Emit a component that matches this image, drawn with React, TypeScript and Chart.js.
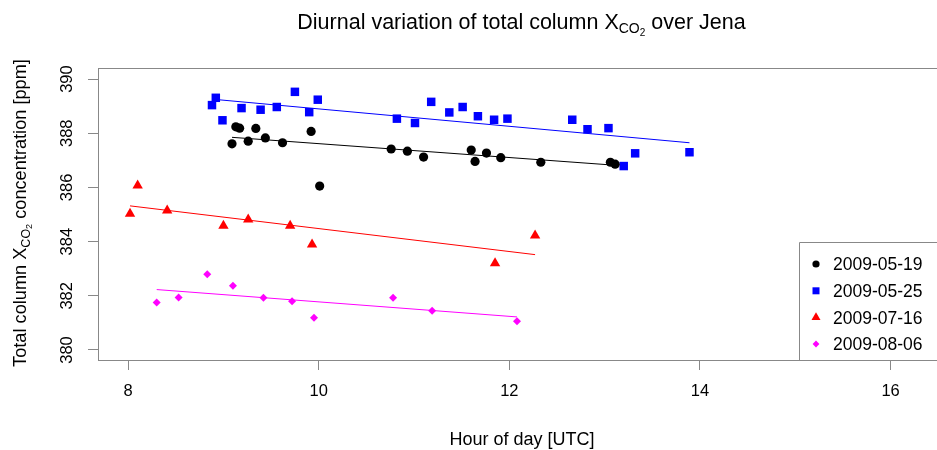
import React, { useEffect, useRef } from "react";
import { Chart, registerables } from "chart.js";

Chart.register(...registerables);

// ---------- data ----------
const seriesNames = ["2009-05-19", "2009-05-25", "2009-07-16", "2009-08-06"];
const seriesColors = ["#000000", "#0000ff", "#ff0000", "#ff00ff"];
const seriesShapes = ["circle", "rect", "triangle", "rectRot"];

const may19Hours = [9.09, 9.13, 9.17, 9.26, 9.34, 9.44, 9.62, 9.92, 10.01, 10.76, 10.93, 11.1, 11.6, 11.64, 11.76, 11.91, 12.33, 13.06, 13.11];
const may19Xco2 = [387.61, 388.24, 388.19, 387.71, 388.18, 387.83, 387.65, 388.07, 386.05, 387.42, 387.34, 387.12, 387.38, 386.96, 387.27, 387.1, 386.93, 386.93, 386.86];

const may25Hours = [8.88, 8.92, 8.99, 9.19, 9.39, 9.56, 9.75, 9.9, 9.99, 10.82, 11.01, 11.18, 11.37, 11.51, 11.67, 11.84, 11.98, 12.66, 12.82, 13.04, 13.2, 13.32, 13.89];
const may25Xco2 = [389.04, 389.31, 388.48, 388.93, 388.87, 388.97, 389.53, 388.78, 389.24, 388.54, 388.38, 389.16, 388.77, 388.97, 388.63, 388.5, 388.54, 388.5, 388.15, 388.19, 386.79, 387.26, 387.3];

const jul16Hours = [8.02, 8.1, 8.41, 9.0, 9.26, 9.7, 9.93, 11.85, 12.27];
const jul16Xco2 = [385.03, 386.07, 385.15, 384.59, 384.82, 384.59, 383.89, 383.2, 384.23];

const aug06Hours = [8.3, 8.53, 8.83, 9.1, 9.42, 9.72, 9.95, 10.78, 11.19, 12.08];
const aug06Xco2 = [381.75, 381.94, 382.8, 382.37, 381.93, 381.8, 381.19, 381.93, 381.45, 381.06];

// fitted trend lines: [start, end]
const may19FitHours = [9.09, 13.11];
const may19FitXco2 = [387.85, 386.82];
const may25FitHours = [8.88, 13.89];
const may25FitXco2 = [389.26, 387.65];
const jul16FitHours = [8.02, 12.27];
const jul16FitXco2 = [385.32, 383.52];
const aug06FitHours = [8.3, 12.08];
const aug06FitXco2 = [382.23, 381.22];

const xTickValues = [8, 10, 12, 14, 16];
const yTickValues = [380, 382, 384, 386, 388, 390];
const xRange = [7.684, 16.424];
const yRange = [379.63, 390.41];

// ---------- styling ----------
const FONT = '"Liberation Sans", Arial, Helvetica, sans-serif';
const AXIS_GREY = "#888888";

type Part = { t: string; size: number; dy: number };

function partsWidth(ctx: CanvasRenderingContext2D, parts: Part[]) {
  let w = 0;
  for (const p of parts) {
    ctx.font = `${p.size}px ${FONT}`;
    w += ctx.measureText(p.t).width;
  }
  return w;
}

function drawParts(ctx: CanvasRenderingContext2D, parts: Part[], x: number, y: number) {
  let cx = x;
  for (const p of parts) {
    ctx.font = `${p.size}px ${FONT}`;
    ctx.fillText(p.t, cx, y + p.dy);
    cx += ctx.measureText(p.t).width;
  }
}

function drawShape(ctx: CanvasRenderingContext2D, shape: string, x: number, y: number, color: string) {
  ctx.fillStyle = color;
  ctx.beginPath();
  if (shape === "circle") {
    ctx.arc(x, y, 3.6, 0, Math.PI * 2);
  } else if (shape === "rect") {
    ctx.rect(x - 3.5, y - 3.5, 7, 7);
  } else if (shape === "triangle") {
    const r = 5.2;
    ctx.moveTo(x, y - r);
    ctx.lineTo(x + r * 0.866, y + r / 2);
    ctx.lineTo(x - r * 0.866, y + r / 2);
    ctx.closePath();
  } else {
    const r = 3.4;
    ctx.moveTo(x, y - r);
    ctx.lineTo(x + r, y);
    ctx.lineTo(x, y + r);
    ctx.lineTo(x - r, y);
    ctx.closePath();
  }
  ctx.fill();
}

const decorPlugin = {
  id: "decor",
  afterDraw(chart: any) {
    const ctx: CanvasRenderingContext2D = chart.ctx;
    const { left, top, bottom } = chart.chartArea;
    const xs = chart.scales.x;
    const ys = chart.scales.y;
    const W = chart.width;
    ctx.save();

    // top border
    ctx.strokeStyle = AXIS_GREY;
    ctx.lineWidth = 1;
    ctx.beginPath();
    ctx.moveTo(left, Math.round(top) + 0.5);
    ctx.lineTo(W + 5, Math.round(top) + 0.5);
    ctx.stroke();

    ctx.fillStyle = "#000";
    ctx.textBaseline = "alphabetic";
    ctx.textAlign = "left";

    // title
    const titleParts: Part[] = [
      { t: "Diurnal variation of total column X", size: 21.5, dy: 0 },
      { t: "CO", size: 14, dy: 4.5 },
      { t: "2", size: 10, dy: 7 },
      { t: " over Jena", size: 21.5, dy: 0 },
    ];
    const tw = partsWidth(ctx, titleParts);
    drawParts(ctx, titleParts, 521.5 - tw / 2, 28.5);

    // x tick labels
    ctx.textAlign = "center";
    ctx.font = `16.5px ${FONT}`;
    for (const v of xTickValues) {
      const px = xs.getPixelForValue(v);
      ctx.fillText(String(v), px, 390.5 + 0.358 * 16.5);
    }

    // y tick labels (rotated)
    for (const v of yTickValues) {
      const py = ys.getPixelForValue(v);
      ctx.save();
      ctx.translate(66 + 0.358 * 16.5, py);
      ctx.rotate(-Math.PI / 2);
      ctx.textAlign = "center";
      ctx.font = `16.5px ${FONT}`;
      ctx.fillText(String(v), 0, 0);
      ctx.restore();
    }

    // x axis title
    ctx.textAlign = "center";
    ctx.font = `18px ${FONT}`;
    ctx.fillText("Hour of day [UTC]", 522, 438.5 + 0.358 * 18);

    // y axis title (rotated)
    const yParts: Part[] = [
      { t: "Total column X", size: 18.2, dy: 0 },
      { t: "CO", size: 12.5, dy: 4 },
      { t: "2", size: 9, dy: 6.2 },
      { t: " concentration [ppm]", size: 18.2, dy: 0 },
    ];
    ctx.textAlign = "left";
    const yw = partsWidth(ctx, yParts);
    ctx.save();
    ctx.translate(19 + 0.358 * 18.2, 213);
    ctx.rotate(-Math.PI / 2);
    drawParts(ctx, yParts, -yw / 2, 0);
    ctx.restore();

    // legend
    const lx = 799.5;
    const ly = 242.5;
    ctx.fillStyle = "#ffffff";
    ctx.fillRect(lx, ly, W - lx + 5, bottom - ly);
    ctx.strokeStyle = AXIS_GREY;
    ctx.beginPath();
    ctx.rect(lx, ly, W - lx + 5, Math.round(bottom) + 0.5 - ly);
    ctx.stroke();
    const rowY = [264, 290.8, 317.5, 344];
    ctx.textAlign = "left";
    seriesNames.forEach((name, i) => {
      drawShape(ctx, seriesShapes[i], 816, rowY[i], seriesColors[i]);
      ctx.fillStyle = "#000";
      ctx.font = `17.5px ${FONT}`;
      ctx.fillText(name, 833, rowY[i] + 0.358 * 17.5);
    });

    ctx.restore();
  },
};

function pts(xs: number[], ys: number[]) {
  return xs.map((x, i) => ({ x, y: ys[i] }));
}

export default function App() {
  const ref = useRef<HTMLCanvasElement>(null);
  useEffect(() => {
    const canvas = ref.current!;
    const pointSets = [
      { h: may19Hours, v: may19Xco2, r: 4.6 },
      { h: may25Hours, v: may25Xco2, r: 6 },
      { h: jul16Hours, v: jul16Xco2, r: 6 },
      { h: aug06Hours, v: aug06Xco2, r: 4 },
    ];
    const fitSets = [
      { h: may19FitHours, v: may19FitXco2 },
      { h: may25FitHours, v: may25FitXco2 },
      { h: jul16FitHours, v: jul16FitXco2 },
      { h: aug06FitHours, v: aug06FitXco2 },
    ];
    const datasets: any[] = [];
    pointSets.forEach((s, i) => {
      datasets.push({
        label: seriesNames[i],
        data: pts(s.h, s.v),
        pointStyle: seriesShapes[i],
        pointRadius: s.r,
        pointBorderWidth: 0,
        pointBackgroundColor: seriesColors[i],
        pointBorderColor: seriesColors[i],
        showLine: false,
      });
    });
    fitSets.forEach((s, i) => {
      datasets.push({
        label: seriesNames[i] + " fit",
        data: pts(s.h, s.v),
        showLine: true,
        pointRadius: 0,
        borderColor: seriesColors[i],
        borderWidth: 1,
        fill: false,
      });
    });

    const chart = new Chart(canvas, {
      type: "scatter",
      data: { datasets },
      options: {
        responsive: false,
        animation: false,
        events: [],
        layout: { padding: { top: 68, left: 0, right: 0, bottom: 0 } },
        plugins: {
          legend: { display: false },
          title: { display: false },
          tooltip: { enabled: false },
        },
        scales: {
          x: {
            type: "linear",
            position: "bottom",
            min: xRange[0],
            max: xRange[1],
            afterBuildTicks: (s: any) => {
              s.ticks = xTickValues.map((v) => ({ value: v }));
            },
            afterFit: (s: any) => {
              s.height = 90;
            },
            ticks: { display: false },
            grid: { drawOnChartArea: false, drawTicks: true, tickLength: 10, color: AXIS_GREY, lineWidth: 1 },
            border: { display: true, color: AXIS_GREY, width: 1 },
          },
          y: {
            type: "linear",
            position: "left",
            min: yRange[0],
            max: yRange[1],
            afterBuildTicks: (s: any) => {
              s.ticks = yTickValues.map((v) => ({ value: v }));
            },
            afterFit: (s: any) => {
              s.width = 98;
            },
            ticks: { display: false },
            grid: { drawOnChartArea: false, drawTicks: true, tickLength: 10, color: AXIS_GREY, lineWidth: 1 },
            border: { display: true, color: AXIS_GREY, width: 1 },
          },
        },
      } as any,
      plugins: [decorPlugin],
    });
    return () => chart.destroy();
  }, []);
  return (
    <canvas
      ref={ref}
      width={937}
      height={450}
      style={{ position: "fixed", left: 0, top: 0, width: 937, height: 450, background: "#fff" }}
    />
  );
}
